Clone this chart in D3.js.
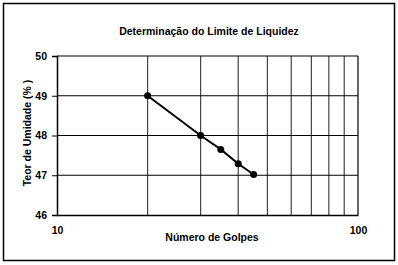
<!DOCTYPE html>
<html>
<head>
<meta charset="utf-8">
<script src="https://cdn.jsdelivr.net/npm/d3@7"></script>
<style>
body { margin: 0; background: #fff; }
text { font-family: "Liberation Sans", Arial, sans-serif; fill: #000; }
</style>
</head>
<body>
<div id="chart"></div>
<script>
var golpes = [20, 30, 35, 40, 45];
var umidade = [49.0, 48.0, 47.65, 47.29, 47.02];
var yTicks = [46, 47, 48, 49, 50];
var xGrid = [20, 30, 40, 50, 60, 70, 80, 90];
var xLabels = [10, 100];

var width = 398, height = 265;
var plotLeft = 57, plotRight = 358, plotTop = 56, plotBottom = 215;

var svg = d3.select("#chart").append("svg").attr("width", width).attr("height", height);

// moldura
svg.append("rect")
    .attr("x", 3.5).attr("y", 3.5).attr("width", 391).attr("height", 257)
    .attr("fill", "none").attr("stroke", "#000").attr("stroke-width", 1.5);

var x = d3.scaleLog().domain([10, 100]).range([plotLeft, plotRight]);
var y = d3.scaleLinear().domain([46, 50]).range([plotBottom, plotTop]);

// grade vertical
svg.selectAll(".vgrid").data(xGrid).enter().append("line")
    .attr("class", "vgrid")
    .attr("x1", function(d){ return x(d); }).attr("x2", function(d){ return x(d); })
    .attr("y1", plotTop).attr("y2", plotBottom)
    .attr("stroke", "#444").attr("stroke-width", 1.2);

// grade horizontal
svg.selectAll(".hgrid").data(yTicks.slice(1)).enter().append("line")
    .attr("class", "hgrid")
    .attr("x1", plotLeft).attr("x2", plotRight)
    .attr("y1", function(d){ return y(d); }).attr("y2", function(d){ return y(d); })
    .attr("stroke", "#000").attr("stroke-width", 1.2);

// eixos
var yAxis = d3.axisLeft(y).tickValues(yTicks).tickSize(5).tickPadding(5).tickFormat(d3.format("d"));
var gy = svg.append("g").attr("transform", "translate(" + plotLeft + ",0)").call(yAxis);
gy.select(".domain").attr("stroke-width", 1.5);
gy.selectAll("text").attr("font-size", "10.5px").attr("font-weight", "bold").style("font-family", "'Liberation Sans', Arial, sans-serif");

var xAxis = d3.axisBottom(x).tickValues(xLabels).tickSize(0).tickPadding(12).tickFormat(d3.format("d"));
var gx = svg.append("g").attr("transform", "translate(0," + plotBottom + ")").call(xAxis);
gx.select(".domain").attr("stroke-width", 1.5);
gx.selectAll("text").attr("font-size", "10.5px").attr("font-weight", "bold").style("font-family", "'Liberation Sans', Arial, sans-serif");

// linha direita
svg.append("line").attr("x1", plotRight).attr("x2", plotRight).attr("y1", plotTop).attr("y2", plotBottom)
    .attr("stroke", "#000").attr("stroke-width", 1.2);

// serie
var pts = golpes.map(function(g, i){ return [g, umidade[i]]; });
svg.append("path")
    .datum(pts)
    .attr("fill", "none").attr("stroke", "#000").attr("stroke-width", 2)
    .attr("d", d3.line().x(function(d){ return x(d[0]); }).y(function(d){ return y(d[1]); }));

svg.selectAll(".pt").data(pts).enter().append("circle")
    .attr("class", "pt")
    .attr("cx", function(d){ return x(d[0]); })
    .attr("cy", function(d){ return y(d[1]); })
    .attr("r", 3.5).attr("fill", "#000");

// textos
svg.append("text").attr("x", 209).attr("y", 35).attr("text-anchor", "middle")
    .attr("font-size", "10.5px").attr("font-weight", "bold")
    .text("Determinação do Limite de Liquidez");

svg.append("text").attr("x", 212).attr("y", 241).attr("text-anchor", "middle")
    .attr("font-size", "10.5px").attr("font-weight", "bold")
    .text("Número de Golpes");

svg.append("text")
    .attr("transform", "translate(31,133) rotate(-90)")
    .attr("text-anchor", "middle")
    .attr("font-size", "10.5px").attr("font-weight", "bold")
    .text("Teor de Umidade (% )");
</script>
</body>
</html>
